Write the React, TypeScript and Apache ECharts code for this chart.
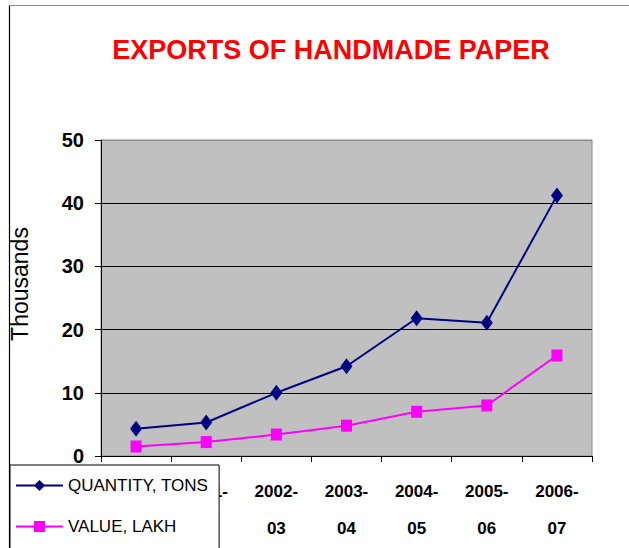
import React, { useEffect, useRef } from "react";
import * as echarts from "echarts";

const categories = ["2000-\n01", "2001-\n02", "2002-\n03", "2003-\n04", "2004-\n05", "2005-\n06", "2006-\n07"];
const quantityTons = [4.3, 5.3, 10.0, 14.2, 21.8, 21.1, 41.2];
const valueLakh = [1.5, 2.2, 3.4, 4.8, 7.0, 8.0, 15.9];
const seriesNames = ["QUANTITY, TONS", "VALUE, LAKH"];
const titleText = "EXPORTS OF HANDMADE PAPER";
const yAxisName = "Thousands";

const SANS = "'Liberation Sans', Arial, sans-serif";

export default function App() {
  const ref = useRef<HTMLDivElement>(null);
  useEffect(() => {
    if (!ref.current) return;
    const chart = echarts.init(ref.current, null, { renderer: "svg" });
    chart.setOption({
      animation: false,
      backgroundColor: "#ffffff",
      title: {
        text: titleText,
        left: 326,
        top: 31,
        textAlign: "center",
        textStyle: { color: "#ff0000", fontFamily: SANS, fontWeight: "bold", fontSize: 27 },
      },
      graphic: [
        { type: "line", shape: { x1: 9.5, y1: 5, x2: 9.5, y2: 560 }, style: { stroke: "#000", lineWidth: 1.2 }, z: 0 },
        { type: "line", shape: { x1: 9, y1: 5.5, x2: 640, y2: 5.5 }, style: { stroke: "#888", lineWidth: 1 }, z: 0 },
      ],
      legend: {
        left: 10,
        top: 465,
        height: 120,
        orient: "vertical",
        backgroundColor: "#ffffff",
        borderColor: "#000",
        borderWidth: 1,
        borderRadius: 0,
        padding: [12, 11, 20, 5],
        itemGap: 24,
        itemWidth: 47,
        itemHeight: 14,
        textStyle: { fontFamily: SANS, fontSize: 17, color: "#000" },
        data: seriesNames,
      },
      grid: {
        left: 97,
        top: 140,
        right: 37,
        bottom: 92,
        show: true,
        backgroundColor: "#c0c0c0",
        borderColor: "#8a8a8a",
        borderWidth: 1,
      },
      xAxis: {
        type: "category",
        data: categories,
        boundaryGap: true,
        axisLine: { lineStyle: { color: "#000", width: 1 } },
        axisTick: { show: true, length: 6, lineStyle: { color: "#000" } },
        axisLabel: {
          interval: 0,
          margin: 17,
          fontFamily: SANS,
          fontWeight: "bold",
          fontSize: 17,
          lineHeight: 37,
          color: "#000",
        },
      },
      yAxis: {
        type: "value",
        min: 0,
        max: 50,
        interval: 10,
        name: yAxisName,
        nameLocation: "middle",
        nameRotate: 90,
        nameGap: 70,
        nameTextStyle: { fontFamily: SANS, fontSize: 23, color: "#000", padding: [0, 0, 0, 28] },
        axisLine: { show: true, lineStyle: { color: "#000", width: 1 } },
        axisTick: { show: true, length: 6, lineStyle: { color: "#000" } },
        axisLabel: { margin: 17, fontFamily: SANS, fontWeight: "bold", fontSize: 20, color: "#000" },
        splitLine: {
          show: true,
          lineStyle: { color: ["#000", "#000", "#000", "#000", "#000", "#8a8a8a"], width: 1 },
        },
      },
      series: [
        {
          name: seriesNames[0],
          type: "line",
          data: quantityTons,
          symbol: "diamond",
          symbolSize: [12, 16],
          itemStyle: { color: "#000080" },
          lineStyle: { color: "#000080", width: 2 },
          z: 3,
        },
        {
          name: seriesNames[1],
          type: "line",
          data: valueLakh,
          symbol: "rect",
          symbolSize: [11, 12],
          itemStyle: { color: "#ff00ff" },
          lineStyle: { color: "#ff00ff", width: 2 },
          z: 2,
        },
      ],
    });
    return () => chart.dispose();
  }, []);
  return (
    <div
      ref={ref}
      style={{ position: "fixed", left: 0, top: 0, width: 629, height: 548 }}
    />
  );
}
